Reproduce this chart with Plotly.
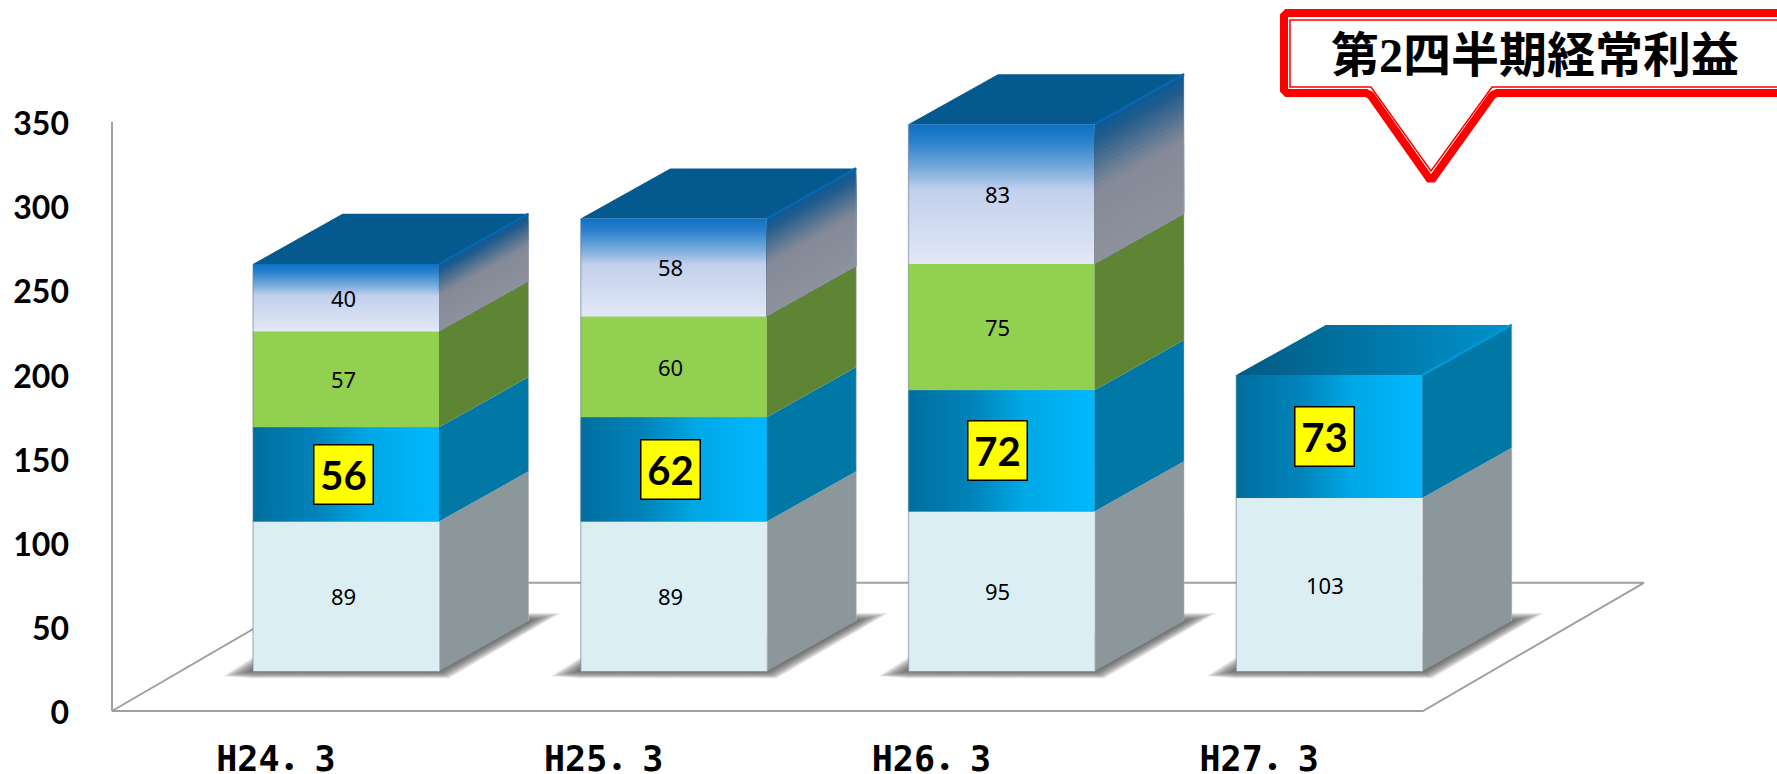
import plotly.graph_objects as go

categories = ["H24．3", "H25．3", "H26．3", "H27．3"]
series_a = [89, 89, 95, 103]
series_b = [56, 62, 72, 73]
series_c = [57, 60, 75, None]
series_d = [40, 58, 83, None]
y_ticks = [0, 50, 100, 150, 200, 250, 300, 350]
callout_text = "第2四半期経常利益"

W, H = 1777, 774
L, R, T, B = 112, 1423, 122, 711
PAD = 6
UX = (R - L) / 4          # px per category
UY = (B - T) / 350        # px per value unit
X_RANGE = [-0.5 - PAD / UX, -0.5 + (W - L) / UX]
Y_RANGE = [-PAD / UY, B / UY]

# oblique projection, in axis units
FLOOR_DX, FLOOR_DY = 0.674, 76.2
BAR_DX, BAR_DY = 0.2732, 29.8
INSET = 0.31
BAR_W = 0.5675
SHIFT = INSET * FLOOR_DX + 0.005
BASE = INSET * FLOOR_DY
LABEL_PITCH, LABEL_OFFSET = 0.9977, 0.2073

front = {"a": "#DBEEF4", "b": "#00A0DC", "c": "#92D050", "d": "#C8D4EE"}
side = {"a": "#8B979B", "b": "#0077A5", "c": "#5E8533"}
GRAD_B = [[0, "#006E9E"], [0.35, "#0084BB"], [0.62, "#00A8E6"], [1, "#00B8FF"]]
GRAD_D = [[0, "#0B72C6"], [0.12, "#2A80CC"], [0.33, "#7DAEDD"], [0.47, "#C2D0EC"], [1, "#E2E8F6"]]
SIDE_STOPS = [(0.0, (15, 90, 150)), (0.1, (35, 92, 140)), (0.45, (132, 138, 152)), (1.0, (141, 146, 156))]
GRAIN = 28


def side_col(t):
    for (a, ca), (b, cb) in zip(SIDE_STOPS, SIDE_STOPS[1:]):
        if t <= b:
            f = (t - a) / (b - a)
            return "rgb(%d,%d,%d)" % tuple(round(p + (q - p) * f) for p, q in zip(ca, cb))
    return "rgb(141,146,156)"


fig = go.Figure()


def poly(xs, ys, color=None, axes=("x2", "y2"), **kw):
    fig.add_trace(go.Scatter(
        x=xs + xs[:1], y=ys + ys[:1], mode="lines", fill="toself", line=dict(width=0),
        fillcolor=color, xaxis=axes[0], yaxis=axes[1], hoverinfo="skip", showlegend=False, **kw))


def seg(xs, ys, color, width, axes=("x2", "y2")):
    fig.add_trace(go.Scatter(x=xs, y=ys, mode="lines", line=dict(color=color, width=width),
                             xaxis=axes[0], yaxis=axes[1], hoverinfo="skip", showlegend=False))


# floor and the vertical axis line
AXC = "#A0A0A0"
fx = [-0.5, -0.5 + FLOOR_DX, 3.5 + FLOOR_DX, 3.5]
fy = [0, FLOOR_DY, FLOOR_DY, 0]
seg(fx + fx[:1], fy + fy[:1], AXC, 2, axes=("x", "y"))
seg([-0.5, -0.5], [0, 350], AXC, 2, axes=("x", "y"))

# ground shadows
LAYERS = 12
for k in range(LAYERS):
    s = 1 - k / LAYERS
    for i in range(4):
        x0 = i + SHIFT - BAR_W / 2
        x1 = x0 + BAR_W
        bk = BASE + BAR_DY
        poly([x0 - 30 / UX * s, x0, x0 + 20 / UX, x1 + BAR_DX, x1 + BAR_DX,
              x1 + BAR_DX + 32 / UX * s, x1 + 10 / UX * s, x0],
             [BASE - 5 / UY * s, BASE + 14 / UY * s, BASE + 14 / UY, bk, bk + 8 / UY * s,
              bk + 8 / UY * s, BASE - 7 / UY * s, BASE - 7 / UY * s],
             "rgba(70,70,70,0.11)", axes=("x", "y"))

# front faces (bars)
cum = [BASE] * 4
tops = []
layers = [("a", series_a), ("b", series_b), ("c", series_c), ("d", series_d)]
xc = [i + SHIFT for i in range(4)]
for key, vals in layers:
    present = [v is not None for v in vals]
    fig.add_trace(go.Bar(
        x=[x for x, p in zip(xc, present) if p],
        y=[v for v in vals if v is not None],
        base=[c for c, p in zip(cum, present) if p],
        width=BAR_W, marker=dict(color=front[key], line=dict(width=0)),
        xaxis="x2", yaxis="y2", showlegend=False, name=key))
    tops.append((key, vals, list(cum)))
    cum = [c + (v or 0) for c, v in zip(cum, vals)]

for key, vals, bases in tops:
    for i, v in enumerate(vals):
        if v is None:
            continue
        x0 = xc[i] - BAR_W / 2
        x1 = xc[i] + BAR_W / 2
        y0, y1 = bases[i], bases[i] + v
        if key == "b":
            poly([x0, x1, x1, x0], [y0, y0, y1, y1], None,
                 fillgradient=dict(type="horizontal", colorscale=GRAD_B))
        if key == "d":
            poly([x0, x1, x1, x0], [y0, y0, y1, y1], None,
                 fillgradient=dict(type="vertical", colorscale=[[1 - p, c] for p, c in GRAD_D][::-1]))
        if key == "d":
            for n in range(GRAIN):
                t = n / GRAIN
                yt = y1 - t * (y1 - y0)
                poly([x1, x1 + BAR_DX, x1 + BAR_DX, x1],
                     [y0, y0 + BAR_DY, yt + BAR_DY, yt], side_col(t))
        else:
            poly([x1, x1 + BAR_DX, x1 + BAR_DX, x1],
                 [y0, y0 + BAR_DY, y1 + BAR_DY, y1], side[key])

# front edges and top faces
for i in range(4):
    x0 = xc[i] - BAR_W / 2
    x1 = xc[i] + BAR_W / 2
    yt = cum[i]
    seg([x0, x0], [BASE, yt], "rgba(110,125,135,0.45)", 1.5)
    seg([x1, x1], [BASE, BASE + series_a[i]], "rgba(255,255,255,0.45)", 1.5)
    seg([x1 + BAR_DX, x1 + BAR_DX], [BASE + BAR_DY, yt + BAR_DY], "rgba(170,180,190,0.5)", 1)
    xs = [x0, x1, x1 + BAR_DX, x0 + BAR_DX]
    ys = [yt, yt, yt + BAR_DY, yt + BAR_DY]
    if series_d[i] is None:
        poly(xs, ys, None, fillgradient=dict(
            type="horizontal", colorscale=[[0, "#045A80"], [0.5, "#0077A8"], [1, "#0092CC"]]))
        edge = "#0098D2"
    else:
        poly(xs, ys, "#04598F")
        edge = "#0A66AA"
    seg([x1, x1 + BAR_DX], [yt, yt + BAR_DY], edge, 2.5)

# value labels
annotations = []
for key, vals, bases in tops:
    for i, v in enumerate(vals):
        if v is None:
            continue
        ymid = bases[i] + v / 2
        xl = i * LABEL_PITCH + LABEL_OFFSET
        if key == "b":
            annotations.append(dict(
                x=xl, y=ymid, xref="x", yref="y", text=str(v), showarrow=False,
                font=dict(family="Lato", size=40, color="black", weight="bold"),
                bgcolor="#FFFF00", bordercolor="black", borderwidth=1.5, borderpad=0,
                width=58, height=58, xanchor="center", yanchor="middle", valign="middle"))
        else:
            annotations.append(dict(
                x=xl, y=ymid, xref="x", yref="y", text=str(v), showarrow=False,
                font=dict(family="Noto Sans", size=22, color="black"),
                xanchor="center", yanchor="middle"))

# callout
PL = L - PAD
PB = B + PAD


def px(x, y):
    return (x - PL) / (W - PL), 1 - y / PB


def path(points, r=0):
    parts = []
    n = len(points)
    for k, (x, y) in enumerate(points):
        pts = [(x, y)]
        if r:
            (xa, ya), (xb, yb) = points[k - 1], points[(k + 1) % n]
            da = ((xa - x) ** 2 + (ya - y) ** 2) ** 0.5
            db = ((xb - x) ** 2 + (yb - y) ** 2) ** 0.5
            pts = [(x + (xa - x) * r / da, y + (ya - y) * r / da),
                   (x + (xb - x) * r / db, y + (yb - y) * r / db)]
        for p in pts:
            a, b = px(*p)
            parts.append(("M" if not parts else "L") + f"{a:.5f},{b:.5f}")
    return " ".join(parts) + " Z"


outer = [(1284, 13), (1800, 13), (1800, 93), (1494, 93), (1431, 181), (1369, 93), (1284, 93)]
inner = [(1290, 20), (1800, 20), (1800, 87), (1492, 87), (1431, 171), (1371, 87), (1290, 87)]
shapes = [
    dict(type="path", path=path(outer, 3), xref="paper", yref="paper", fillcolor="white",
         line=dict(color="#FF0000", width=8), layer="above"),
    dict(type="path", path=path(inner), xref="paper", yref="paper", fillcolor="white",
         line=dict(color="#FF0000", width=1.5), layer="above"),
]
a, b = px(1535, 55)
annotations.append(dict(x=a, y=b, xref="paper", yref="paper", text=callout_text, showarrow=False,
                        font=dict(family="Liberation Serif, Noto Sans CJK JP", size=48,
                                  color="black", weight="bold"),
                        xanchor="center", yanchor="middle"))

fig.update_layout(
    template=None,
    width=W, height=H, autosize=False, margin=dict(l=PL, r=0, t=0, b=H - PB, pad=0),
    paper_bgcolor="white", plot_bgcolor="rgba(0,0,0,0)", barmode="overlay", showlegend=False,
    annotations=annotations, shapes=shapes,
    xaxis=dict(range=X_RANGE, tickvals=[0, 1, 2, 3], ticktext=categories, showgrid=False,
               zeroline=False, showline=False, ticks="", ticklabelstandoff=18, automargin=False,
               tickfont=dict(family="DejaVu Sans Mono, Noto Sans CJK JP", size=35, color="black",
                             weight="bold")),
    yaxis=dict(range=Y_RANGE, tickvals=y_ticks, showgrid=False, zeroline=False, showline=False,
               ticks="", ticklabelstandoff=36, ticklabelshift=2, automargin=False,
               tickfont=dict(family="Lato", size=32, color="black", weight="bold")),
    xaxis2=dict(range=X_RANGE, overlaying="x", visible=False),
    yaxis2=dict(range=Y_RANGE, overlaying="y", visible=False),
)
fig.write_html("out.html", config=dict(displayModeBar=False),
               post_script="document.body.style.margin='0';document.body.style.overflow='hidden';")
